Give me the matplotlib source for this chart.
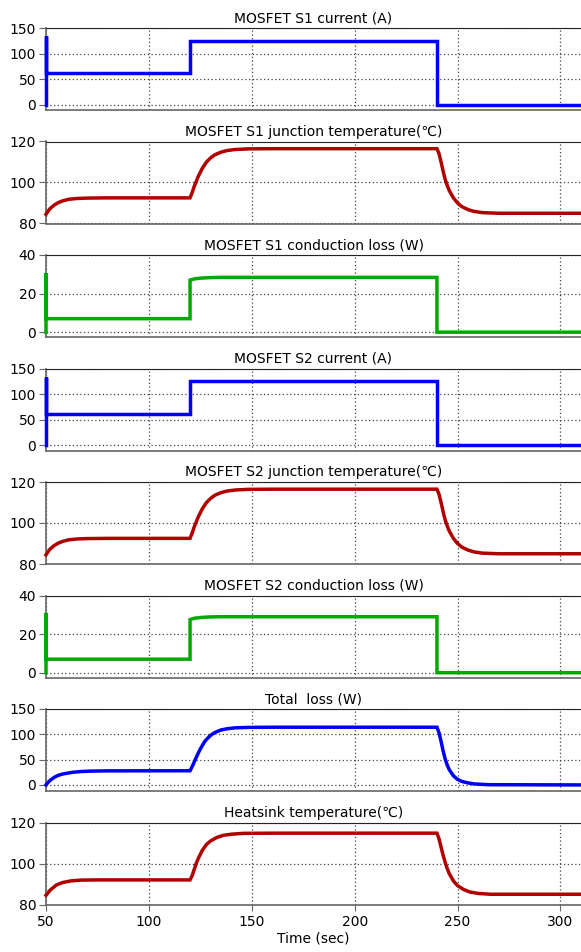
import matplotlib
matplotlib.use("Agg")
import matplotlib.pyplot as plt

plt.rcParams['font.family'] = ['DejaVu Sans', 'Noto Sans CJK JP']
plt.rcParams['font.size'] = 10

# 電流 (A) : ステップ波形
t_cur = [50, 50, 50, 120, 120, 240, 240, 310]
i_s1 = [0, 134, 62, 62, 125, 125, 0, 0]
i_s2 = [0, 134, 62, 62, 125, 125, 0, 0]

# 導通損失 (W)
t_loss = [50, 50, 50, 120, 120, 122, 125, 130, 135, 140, 240, 240, 310]
p_s1 = [0, 30.5, 7, 7, 27, 27.6, 28.0, 28.3, 28.4, 28.4, 28.4, 0, 0]
p_s2 = [0, 31, 7, 7, 27.5, 28.2, 28.6, 28.9, 29.0, 29.0, 29.0, 0, 0]

# ジャンクション温度 (℃)
t_tj = [50, 51, 52, 54, 56, 58, 61, 65, 70, 80, 120,
        121, 122, 123, 124, 125, 126, 127, 128, 130, 132, 135, 138, 142, 148, 160,
        240, 241, 242, 243, 244, 245, 246, 248, 250, 252, 255, 258, 262, 270, 310]
tj_s1 = [84.5, 86.0, 87.3, 89.0, 90.2, 91.0, 91.8, 92.2, 92.4, 92.5, 92.5,
         95.0, 98.0, 100.5, 103.0, 105.0, 107.0, 108.5, 110.0, 112.0, 113.5, 114.8, 115.6, 116.1, 116.4, 116.5,
         116.5, 114.0, 110.0, 105.5, 101.5, 98.5, 96.0, 92.5, 90.0, 88.3, 86.8, 85.9, 85.3, 85.0, 85.0]
tj_s2 = [84.5, 86.0, 87.3, 89.0, 90.2, 91.0, 91.8, 92.2, 92.4, 92.5, 92.5,
         95.0, 98.0, 100.5, 103.0, 105.0, 107.0, 108.5, 110.0, 112.0, 113.5, 114.8, 115.6, 116.1, 116.4, 116.5,
         116.5, 114.0, 110.0, 105.5, 101.5, 98.5, 96.0, 92.5, 90.0, 88.3, 86.8, 85.9, 85.3, 85.0, 85.0]

# 全損失 (W)
t_tot = [50, 51, 52, 54, 56, 58, 60, 63, 67, 72, 80, 120,
         121, 122, 123, 124, 125, 126, 127, 128, 130, 132, 135, 138, 142, 148, 160,
         240, 241, 242, 243, 244, 245, 246, 248, 250, 252, 255, 258, 265, 310]
p_tot = [0, 5, 9, 15, 19, 21.5, 23, 25, 26.5, 27.3, 27.8, 28,
         36, 45, 54, 63, 71, 78, 85, 90, 98, 103.5, 108.5, 111, 112.8, 113.6, 114,
         114, 103, 86, 67, 51, 39, 30, 18, 11, 7, 4, 2, 0.5, 0]

# ヒートシンク温度 (℃)
t_hs = [50, 52, 55, 58, 62, 67, 75, 120,
        121, 122, 123, 124, 125, 126, 128, 130, 133, 136, 140, 146, 160,
        240, 241, 242, 243, 244, 245, 246, 248, 250, 253, 256, 260, 266, 310]
t_sink = [84.5, 87.0, 89.5, 90.7, 91.5, 91.9, 92.0, 92.0,
          94.0, 97.0, 100.0, 102.5, 104.5, 106.5, 109.3, 111.0, 112.7, 113.7, 114.3, 114.7, 114.8,
          114.8, 112.0, 108.0, 104.0, 100.5, 97.5, 95.0, 91.5, 89.2, 87.3, 86.1, 85.4, 85.0, 85.0]

titles = ["MOSFET S1 current (A)",
          "MOSFET S1 junction temperature(℃)",
          "MOSFET S1 conduction loss (W)",
          "MOSFET S2 current (A)",
          "MOSFET S2 junction temperature(℃)",
          "MOSFET S2 conduction loss (W)",
          "Total  loss (W)",
          "Heatsink temperature(℃)"]

BLUE = '#0000f5'
RED = '#b00000'
GREEN = '#00aa00'

panels = [
    (t_cur, i_s1, BLUE, (-10, 150), [0, 50, 100, 150]),
    (t_tj, tj_s1, RED, (80, 120), [80, 100, 120]),
    (t_loss, p_s1, GREEN, (-2.5, 40), [0, 20, 40]),
    (t_cur, i_s2, BLUE, (-10, 150), [0, 50, 100, 150]),
    (t_tj, tj_s2, RED, (80, 120), [80, 100, 120]),
    (t_loss, p_s2, GREEN, (-2.5, 40), [0, 20, 40]),
    (t_tot, p_tot, BLUE, (-12, 150), [0, 50, 100, 150]),
    (t_hs, t_sink, RED, (80, 120), [80, 100, 120]),
]

W, H = 581, 952
fig = plt.figure(figsize=(W / 100, H / 100), dpi=100)

for k, (x, y, c, ylim, yt) in enumerate(panels):
    top = 28 + k * 113.5
    ax = fig.add_axes([46 / W, 1 - (top + 82) / H, 535 / W, 82 / H])
    ax.plot(x, y, color=c, lw=2.5, solid_joinstyle='miter', clip_on=False, zorder=5)
    ax.set_xlim(50, 310)
    ax.set_ylim(*ylim)
    ax.set_yticks(yt)
    ax.set_xticks([50, 100, 150, 200, 250, 300])
    ax.grid(True, ls=(0, (1, 2)), color='#444444', lw=0.9)
    ax.set_title(titles[k], fontsize=10, pad=4)
    for s in ['left', 'bottom']:
        ax.spines[s].set_color('#666666')
        ax.spines[s].set_linewidth(1.2)
    ax.spines['top'].set_color('#222222')
    ax.spines['right'].set_visible(False)
    ax.tick_params(axis='y', length=5, color='#666666', pad=2, labelsize=10)
    if k < 7:
        ax.tick_params(axis='x', length=0, labelbottom=False)
    else:
        ax.tick_params(axis='x', length=4, color='#666666', labelsize=10)
        ax.set_xlabel("Time (sec)", fontsize=10, labelpad=2)

fig.savefig("out.png", dpi=100)
